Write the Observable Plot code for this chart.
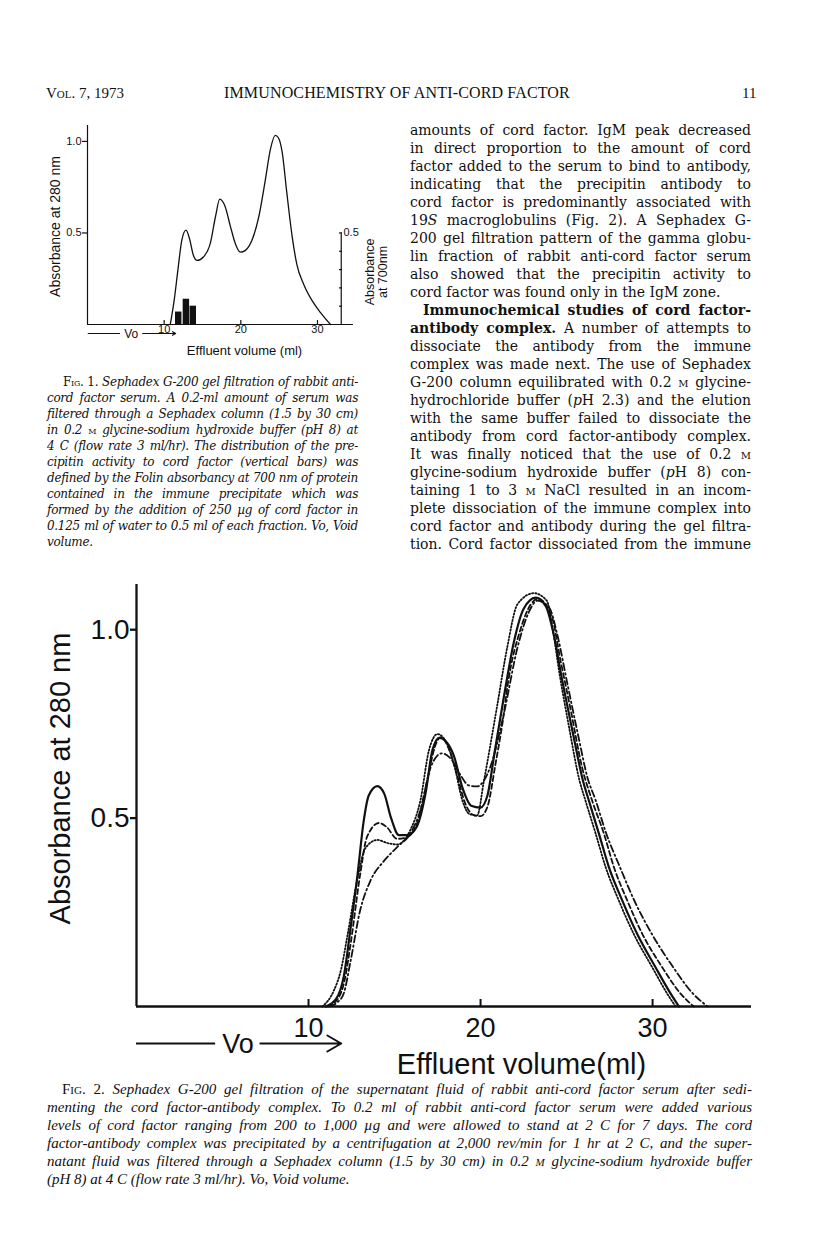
<!DOCTYPE html>
<html><head><meta charset="utf-8">
<script src="https://cdn.jsdelivr.net/npm/d3@7"></script>
<script src="https://cdn.jsdelivr.net/npm/@observablehq/plot@0.6"></script>
<style>
html,body{margin:0;padding:0;background:#fff;}
#page{position:relative;width:816px;height:1245px;overflow:hidden;background:#fff;color:#111;}
.abs{position:absolute;}
.ln{position:absolute;white-space:normal;text-align:justify;text-align-last:justify;}
.ln.last{text-align-last:left;}
.sc{font-variant:small-caps;}
.up{font-style:normal;}
.body{font-family:"DejaVu Serif",serif;font-size:14px;line-height:18px;}
.cap1{font-family:"DejaVu Serif",serif;font-style:italic;font-size:12px;line-height:16px;letter-spacing:-0.3px;}
.cap2{font-family:"Liberation Serif",serif;font-style:italic;font-size:15px;line-height:18px;}
.hdr{font-family:"Liberation Serif",serif;font-size:15px;line-height:16px;}
</style></head>
<body>
<div id="page">
  <div class="abs hdr" style="left:46px;top:85px;">V<span class="sc">ol</span>. 7, 1973</div>
  <div class="abs hdr" style="left:224px;top:85px;font-size:16px;letter-spacing:0.15px;">IMMUNOCHEMISTRY OF ANTI-CORD FACTOR</div>
  <div class="abs hdr" style="left:742px;top:85px;">11</div>
  <div id="fig1" class="abs" style="left:0;top:110px;"></div>
  <div id="fig2" class="abs" style="left:0;top:560px;"></div>
  <div id="text"></div>
</div>
<script>
// ---------- Fig. 1 data ----------
const fig1Curve = [[10.8,0],[11.3,0.13],[11.8,0.3],[12.3,0.46],[12.85,0.515],[13.3,0.47],[13.8,0.38],[14.3,0.35],[15.15,0.37],[16.0,0.44],[16.7,0.59],[17.25,0.685],[17.95,0.645],[18.65,0.535],[19.3,0.44],[19.95,0.395],[20.6,0.405],[21.45,0.46],[22.35,0.59],[23.2,0.79],[23.85,0.955],[24.5,1.033],[24.9,1.02],[25.4,0.94],[26.0,0.72],[26.7,0.48],[27.3,0.33],[28.2,0.22],[29.3,0.13],[30.4,0.065],[31.7,0]];
const fig1Fractions = [11.9, 12.9, 13.8];           // effluent volume (ml)
const fig1Absorbance700 = [0.068, 0.138, 0.10];      // precipitin activity
const fig1XTicks = [10, 20, 30];
const fig1YTicks = [0.5, 1.0];
const fig1RightTicks = [0.1, 0.2, 0.3, 0.4, 0.5];
const fig1RightAxisAt = 33.1;
const voidMarker1 = {lineFrom: 0.1, lineTo: 4.3, label: 5.7, arrowFrom: 7.2, arrowTo: 11.5};

// ---------- Fig. 2 data ----------
const fig2Solid = [[11.0,0],[11.6,0.02],[12.05,0.08],[12.45,0.21],[12.85,0.35],[13.2,0.49],[13.5,0.56],[14.0,0.585],[14.4,0.565],[14.8,0.5],[15.25,0.455],[15.75,0.455],[16.3,0.478],[16.8,0.565],[17.2,0.68],[17.6,0.713],[18.05,0.70],[18.45,0.665],[18.95,0.58],[19.45,0.533],[20.0,0.528],[20.4,0.56],[20.8,0.67],[21.35,0.82],[21.95,0.97],[22.5,1.055],[23.2,1.085],[23.8,1.062],[24.25,0.988],[24.75,0.865],[25.35,0.73],[25.95,0.6],[26.3,0.546],[26.88,0.459],[27.46,0.37],[28.24,0.281],[29.1,0.193],[30.17,0.104],[31.05,0.034],[31.53,0]];
const fig2Dotted = [[10.8,0],[11.45,0.04],[11.9,0.1],[12.25,0.185],[12.85,0.34],[13.3,0.42],[14.0,0.442],[14.65,0.433],[15.15,0.43],[15.9,0.467],[16.5,0.546],[17.0,0.68],[17.5,0.723],[17.95,0.706],[18.45,0.644],[18.95,0.546],[19.35,0.511],[19.8,0.507],[20.2,0.6],[20.95,0.794],[21.55,0.953],[22.15,1.068],[23.1,1.097],[23.85,1.077],[24.2,1.0],[24.6,0.88],[25.15,0.74],[25.75,0.6],[26.1,0.546],[26.69,0.459],[27.27,0.37],[28.04,0.281],[28.9,0.193],[29.98,0.104],[30.85,0.034],[31.34,0]];
const fig2Dashed = [[11.1,0],[11.7,0.02],[12.1,0.07],[12.45,0.167],[13.0,0.35],[13.4,0.45],[14.1,0.487],[14.55,0.476],[15.15,0.445],[15.75,0.45],[16.3,0.485],[16.9,0.6],[17.35,0.69],[17.7,0.715],[18.1,0.69],[18.6,0.62],[19.1,0.54],[19.6,0.508],[20.0,0.505],[20.4,0.53],[20.87,0.644],[21.3,0.76],[21.6,0.86],[22.35,1.005],[22.9,1.066],[23.35,1.082],[24.15,1.033],[24.65,0.918],[25.25,0.785],[25.9,0.635],[26.49,0.546],[27.17,0.459],[27.75,0.37],[28.53,0.281],[29.4,0.193],[30.56,0.104],[31.63,0.034],[32.4,0]];
const fig2DashDot = [[11.2,0],[11.7,0.012],[12.05,0.035],[12.45,0.122],[13.0,0.255],[13.6,0.334],[14.4,0.387],[15.15,0.423],[15.9,0.458],[16.5,0.52],[17.1,0.635],[17.75,0.672],[18.35,0.653],[18.85,0.613],[19.3,0.587],[19.8,0.584],[20.2,0.6],[20.6,0.64],[21.35,0.776],[22.15,0.953],[22.8,1.046],[23.3,1.077],[24.0,1.058],[24.45,0.989],[25.05,0.856],[25.7,0.714],[26.2,0.61],[26.7,0.546],[27.3,0.46],[28.1,0.37],[28.95,0.28],[29.95,0.193],[31.2,0.104],[32.35,0.034],[33.2,0]];
const fig2XTicks = [10, 20, 30];
const fig2YTicks = [0.5, 1.0];
const voidMarker2 = {lineFrom: 0, lineTo: 4.6, label: 5.9, arrowFrom: 7.2, arrowTo: 11.9};

const sans = "'Liberation Sans', Arial, sans-serif";

// ---------- Fig. 1 ----------
const bars1 = fig1Fractions.map((ml, i) => ({ml, a: fig1Absorbance700[i]}));
const fig1 = Plot.plot({
  width: 400, height: 260,
  marginLeft: 87, marginRight: 47, marginTop: 15, marginBottom: 46,
  x: {domain: [0, 34.7]}, y: {domain: [0, 1.087]},
  style: {fontFamily: sans, background: "transparent", overflow: "visible", color: "#111"},
  marks: [
    Plot.ruleX([0], {strokeWidth: 1.2}),
    Plot.ruleY([0], {strokeWidth: 1.2}),
    Plot.axisY(fig1YTicks, {tickSize: 5, tickPadding: 1, tickFormat: ".1f", fontSize: 11, strokeWidth: 1.2, label: null}),
    Plot.axisX(fig1XTicks, {tickSize: -4, tickPadding: 5, fontSize: 11, strokeWidth: 1.2, label: null}),
    Plot.ruleX([fig1RightAxisAt], {y1: 0, y2: 0.5, strokeWidth: 1.2}),
    Plot.axisY(fig1RightTicks, {anchor: "right", dx: -12, tickSize: -3, tickPadding: 5, fontSize: 11, strokeWidth: 1.2, label: null, tickFormat: d => d === 0.5 ? "0.5" : ""}),
    Plot.rectY(bars1, {x1: d => d.ml - 0.42, x2: d => d.ml + 0.42, y: "a", fill: "#111"}),
    Plot.line(fig1Curve, {curve: "monotone-x", strokeWidth: 1.3, stroke: "#111"}),
    Plot.text(["Absorbance at 280 nm"], {frameAnchor: "left", textAnchor: "middle", lineAnchor: "middle", rotate: -90, dx: -32, dy: 1.5, fontSize: 14}),
    Plot.text(["Absorbance\nat 700nm"], {frameAnchor: "right", textAnchor: "middle", lineAnchor: "middle", rotate: -90, dx: 22.5, dy: 47, fontSize: 12.5, lineHeight: 1.05}),
    Plot.text(["Effluent volume (ml)"], {frameAnchor: "bottom-left", textAnchor: "middle", lineAnchor: "middle", dx: 157, dy: 26, fontSize: 13}),
    Plot.ruleY([0], {x1: voidMarker1.lineFrom, x2: voidMarker1.lineTo, dy: 9, strokeWidth: 1.1}),
    Plot.arrow([voidMarker1], {x1: "arrowFrom", x2: "arrowTo", y1: 0, y2: 0, dy: 9, strokeWidth: 1.1, headLength: 5}),
    Plot.text([voidMarker1], {x: "label", text: () => "Vo", frameAnchor: "bottom", textAnchor: "middle", lineAnchor: "middle", dy: 9.5, fontSize: 12})
  ]
});
document.getElementById("fig1").appendChild(fig1);

// ---------- Fig. 2 ----------
const fig2 = Plot.plot({
  width: 816, height: 546,
  marginLeft: 136, marginRight: 65, marginTop: 24, marginBottom: 100,
  x: {domain: [0, 35.75]}, y: {domain: [0, 1.12]},
  style: {fontFamily: sans, background: "transparent", overflow: "visible", color: "#111"},
  marks: [
    Plot.ruleX([0], {strokeWidth: 2.3}),
    Plot.ruleY([0], {strokeWidth: 2.3}),
    Plot.axisY(fig2YTicks, {tickSize: 6, tickPadding: 1, tickFormat: ".1f", fontSize: 28, strokeWidth: 2.3, label: null}),
    Plot.axisX(fig2XTicks, {tickSize: -7, tickPadding: 18, fontSize: 27, strokeWidth: 2, label: null}),
    Plot.line(fig2DashDot, {curve: "monotone-x", strokeWidth: 1.8, stroke: "#111", strokeDasharray: "7,3,1.5,3"}),
    Plot.line(fig2Dashed, {curve: "monotone-x", strokeWidth: 1.8, stroke: "#111", strokeDasharray: "5,3"}),
    Plot.line(fig2Dotted, {curve: "monotone-x", strokeWidth: 1.8, stroke: "#111", strokeDasharray: "1.3,2"}),
    Plot.line(fig2Solid, {curve: "monotone-x", strokeWidth: 2.2, stroke: "#111"}),
    Plot.text(["Absorbance at 280 nm"], {frameAnchor: "left", textAnchor: "middle", lineAnchor: "middle", rotate: -90, dx: -76, dy: -17, fontSize: 29}),
    Plot.text(["Effluent volume(ml)"], {frameAnchor: "bottom-left", textAnchor: "middle", lineAnchor: "middle", dx: 385, dy: 58, fontSize: 29}),
    Plot.ruleY([0], {x1: voidMarker2.lineFrom, x2: voidMarker2.lineTo, dy: 37, strokeWidth: 2}),
    Plot.arrow([voidMarker2], {x1: "arrowFrom", x2: "arrowTo", y1: 0, y2: 0, dy: 37, strokeWidth: 2, headLength: 12}),
    Plot.text([voidMarker2], {x: "label", text: () => "Vo", frameAnchor: "bottom", textAnchor: "middle", lineAnchor: "middle", dy: 38, fontSize: 27})
  ]
});
document.getElementById("fig2").appendChild(fig2);

// ---------- Text ----------
const bodyLines = [
  "amounts of cord factor. IgM peak decreased",
  "in direct proportion to the amount of cord",
  "factor added to the serum to bind to antibody,",
  "indicating that the precipitin antibody to",
  "cord factor is predominantly associated with",
  "19<i>S</i> macroglobulins (Fig. 2). A Sephadex G-",
  "200 gel filtration pattern of the gamma globu-",
  "lin fraction of rabbit anti-cord factor serum",
  "also showed that the precipitin activity to",
  "cord factor was found only in the IgM zone.",
  "<b>Immunochemical studies of cord factor-</b>",
  "<b>antibody complex.</b> A number of attempts to",
  "dissociate the antibody from the immune",
  "complex was made next. The use of Sephadex",
  "G-200 column equilibrated with 0.2 <span class='sc'>m</span> glycine-",
  "hydrochloride buffer (<i>p</i>H 2.3) and the elution",
  "with the same buffer failed to dissociate the",
  "antibody from cord factor-antibody complex.",
  "It was finally noticed that the use of 0.2 <span class='sc'>m</span>",
  "glycine-sodium hydroxide buffer (<i>p</i>H 8) con-",
  "taining 1 to 3 <span class='sc'>m</span> NaCl resulted in an incom-",
  "plete dissociation of the immune complex into",
  "cord factor and antibody during the gel filtra-",
  "tion. Cord factor dissociated from the immune"
];
const cap1Lines = [
  "<span class='up'>F<span class='sc'>ig</span>. 1.</span> Sephadex G-200 gel filtration of rabbit anti-",
  "cord factor serum. A 0.2-ml amount of serum was",
  "filtered through a Sephadex column (1.5 by 30 cm)",
  "in 0.2 <span class='up sc'>m</span> glycine-sodium hydroxide buffer (pH 8) at",
  "4 C (flow rate 3 ml/hr). The distribution of the pre-",
  "cipitin activity to cord factor (vertical bars) was",
  "defined by the Folin absorbancy at 700 nm of protein",
  "contained in the immune precipitate which was",
  "formed by the addition of 250 µg of cord factor in",
  "0.125 ml of water to 0.5 ml of each fraction. Vo, Void",
  "volume."
];
const cap2Lines = [
  "<span class='up'>F<span class='sc'>ig</span>. 2.</span> Sephadex G-200 gel filtration of the supernatant fluid of rabbit anti-cord factor serum after sedi-",
  "menting the cord factor-antibody complex. To 0.2 ml of rabbit anti-cord factor serum were added various",
  "levels of cord factor ranging  from 200 to 1,000 µg and were allowed to stand at 2 C for 7 days. The cord",
  "factor-antibody complex was precipitated by a centrifugation at 2,000 rev/min for 1 hr at 2 C, and the super-",
  "natant fluid was filtered through a Sephadex column (1.5 by 30 cm) in 0.2 <span class='sc'>m</span> glycine-sodium hydroxide buffer",
  "(pH 8) at 4 C (flow rate 3 ml/hr). Vo, Void volume."
];
const host = document.getElementById("text");
function place(lines, {left, top, width, lh, cls, indents = {}, lasts = []}) {
  lines.forEach((html, i) => {
    const d = document.createElement("div");
    const ind = indents[i] || 0;
    d.className = "ln " + cls + (lasts.includes(i) ? " last" : "");
    d.style.left = (left + ind) + "px";
    d.style.width = (width - ind) + "px";
    d.style.top = (top + i * lh) + "px";
    d.style.height = lh + "px";
    d.innerHTML = html;
    host.appendChild(d);
  });
}
place(bodyLines, {left: 410, top: 121, width: 341, lh: 18, cls: "body", indents: {10: 13}, lasts: [9]});
place(cap1Lines, {left: 47, top: 373.5, width: 311, lh: 16, cls: "cap1", indents: {0: 16}, lasts: [10]});
place(cap2Lines, {left: 47, top: 1080, width: 705, lh: 18, cls: "cap2", indents: {0: 15}, lasts: [5]});
</script>
</body></html>
